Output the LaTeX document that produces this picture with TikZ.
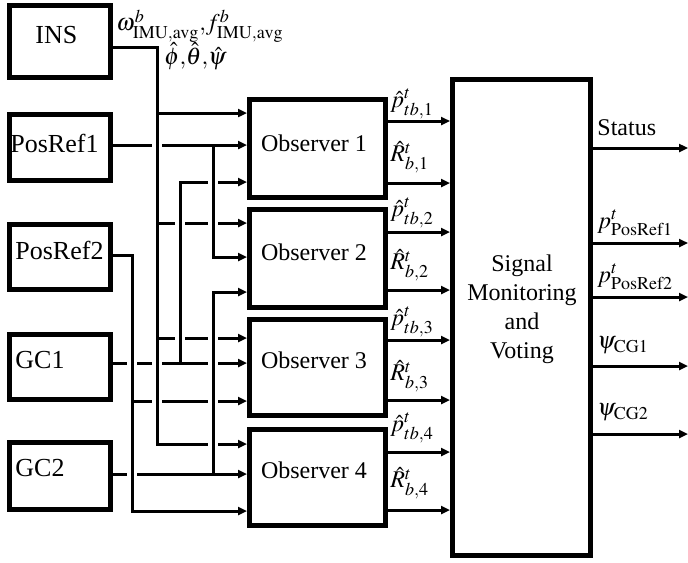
\documentclass[tikz,border=0pt]{standalone}
\usepackage{mathptmx}
\usepackage{fontspec}
\setmainfont{Liberation Serif}
\usetikzlibrary{arrows.meta,fit}
\begin{document}
\begin{tikzpicture}[x=0.5pt,y=-0.5pt,
  blk/.style={draw,line width=2.5pt,inner sep=0pt},
  wire/.style={line width=1.5pt},
  arr/.style={line width=1.5pt,-{Triangle[length=4.5pt,width=4pt]}},
  txt/.style={inner sep=0pt,font=\fontsize{12}{14.5}\selectfont},
  bigtxt/.style={inner sep=0pt,font=\fontsize{13}{15}\selectfont},
]
\useasboundingbox (0,0) rectangle (688,562);
% left source boxes
\node[blk,fit={(9.5,5.5) (110.5,77.5)}] (ins) {};
\node[blk,fit={(9.5,114.5) (110.5,180.5)}] (pr1) {};
\node[blk,fit={(9.5,224.5) (110.5,289.5)}] (pr2) {};
\node[blk,fit={(9.5,334.5) (110.5,399.5)}] (gc1) {};
\node[blk,fit={(9.5,442.5) (110.5,509.5)}] (gc2) {};
\node[bigtxt,anchor=west] (insT) at (35,35) {INS};
\node[bigtxt,anchor=west] (pr1T) at (10,143) {PosRef1};
\node[bigtxt,anchor=west] (pr2T) at (15,250) {PosRef2};
\node[bigtxt,anchor=west] (gc1T) at (15,360) {GC1};
\node[bigtxt,anchor=west] (gc2T) at (15,468) {GC2};
% observers
\node[blk,fit={(249.5,99.5) (385.5,197.5)}] (o1) {};
\node[blk,fit={(249.5,209.5) (385.5,307.5)}] (o2) {};
\node[blk,fit={(249.5,319.5) (385.5,415.5)}] (o3) {};
\node[blk,fit={(249.5,429.5) (385.5,525.5)}] (o4) {};
\node[txt] (o1T) at (314,143) {Observer 1};
\node[txt] (o2T) at (314,252) {Observer 2};
\node[txt] (o3T) at (314,360) {Observer 3};
\node[txt] (o4T) at (314,470) {Observer 4};
% signal monitoring
\node[blk,fit={(452.5,79.5) (590.5,555.5)}] (sm) {};
\node[txt,align=center] (smT) at (522,309) {Signal\\Monitoring\\and\\Voting};
% INS labels
\node[txt,anchor=west] (lw) at (116,26) {$\omega^b_{\mathrm{IMU,avg}}{,}f^b_{\mathrm{IMU,avg}}$};
\node[txt,anchor=west] (la) at (164,56) {$\hat{\phi}{,}\hat{\theta}{,}\hat{\psi}$};
% INS bus
\draw[wire] (ins.east|-0,47) -- (157,47) -- (157,444) -- (208,444);
\draw[arr] (218,444) -- (o4.west|-0,444);
\draw[arr] (157,113) -- (o1.west|-0,113);
\draw[wire] (157,223) -- (175,223) (185,223) -- (208,223);
\draw[arr] (218,223) -- (o2.west|-0,223);
\draw[wire] (157,338) -- (175,338) (185,338) -- (208,338);
\draw[arr] (218,338) -- (o3.west|-0,338);
% PosRef1
\draw[wire] (pr1.east|-0,145) -- (152,145);
\draw[arr] (162,145) -- (o1.west|-0,145);
\draw[arr] (213,145) -- (213,257) -- (o2.west|-0,257);
% GC1
\draw[wire] (gc1.east|-0,363) -- (127,363) (137,363) -- (152,363) (162,363) -- (208,363);
\draw[arr] (218,363) -- (o3.west|-0,363);
\draw[wire] (180,363) -- (180,182) -- (208,182);
\draw[arr] (218,182) -- (o1.west|-0,182);
% PosRef2
\draw[arr] (pr2.east|-0,255) -- (132,255) -- (132,511) -- (o4.west|-0,511);
\draw[wire] (132,401) -- (152,401) (162,401) -- (208,401);
\draw[arr] (218,401) -- (o3.west|-0,401);
% GC2
\draw[wire] (gc2.east|-0,474) -- (127,474);
\draw[arr] (137,474) -- (o4.west|-0,474);
\draw[arr] (213,474) -- (213,292) -- (o2.west|-0,292);
% observer outputs
\draw[arr] (o1.east|-0,121) -- (sm.west|-0,121);
\draw[arr] (o1.east|-0,183) -- (sm.west|-0,183);
\draw[arr] (o2.east|-0,232) -- (sm.west|-0,232);
\draw[arr] (o2.east|-0,290) -- (sm.west|-0,290);
\draw[arr] (o3.east|-0,340) -- (sm.west|-0,340);
\draw[arr] (o3.east|-0,400) -- (sm.west|-0,400);
\draw[arr] (o4.east|-0,452) -- (sm.west|-0,452);
\draw[arr] (o4.east|-0,510) -- (sm.west|-0,510);
\node[txt,anchor=west] (p1) at (390,104) {$\hat{p}^t_{tb,1}$};
\node[txt,anchor=west] (r1) at (390,157) {$\hat{R}^t_{b,1}$};
\node[txt,anchor=west] (p2) at (390,213) {$\hat{p}^t_{tb,2}$};
\node[txt,anchor=west] (r2) at (390,265) {$\hat{R}^t_{b,2}$};
\node[txt,anchor=west] (p3) at (390,322) {$\hat{p}^t_{tb,3}$};
\node[txt,anchor=west] (r3) at (390,376) {$\hat{R}^t_{b,3}$};
\node[txt,anchor=west] (p4) at (390,428) {$\hat{p}^t_{tb,4}$};
\node[txt,anchor=west] (r4) at (390,483) {$\hat{R}^t_{b,4}$};
% outputs
\coordinate (e1) at (688,148);
\coordinate (e2) at (688,243);
\coordinate (e3) at (688,297);
\coordinate (e4) at (688,366);
\coordinate (e5) at (688,434);
\draw[arr] (sm.east|-e1) -- (e1);
\draw[arr] (sm.east|-e2) -- (e2);
\draw[arr] (sm.east|-e3) -- (e3);
\draw[arr] (sm.east|-e4) -- (e4);
\draw[arr] (sm.east|-e5) -- (e5);
\node[txt,anchor=west] (s1) at (597,128) {Status};
\node[txt,anchor=west] (s2) at (597,223) {$p^t_{\mathrm{PosRef1}}$};
\node[txt,anchor=west] (s3) at (597,277) {$p^t_{\mathrm{PosRef2}}$};
\node[txt,anchor=west] (s4) at (597,345) {$\psi_{\mathrm{CG1}}$};
\node[txt,anchor=west] (s5) at (597,412) {$\psi_{\mathrm{CG2}}$};
\end{tikzpicture}
\end{document}
